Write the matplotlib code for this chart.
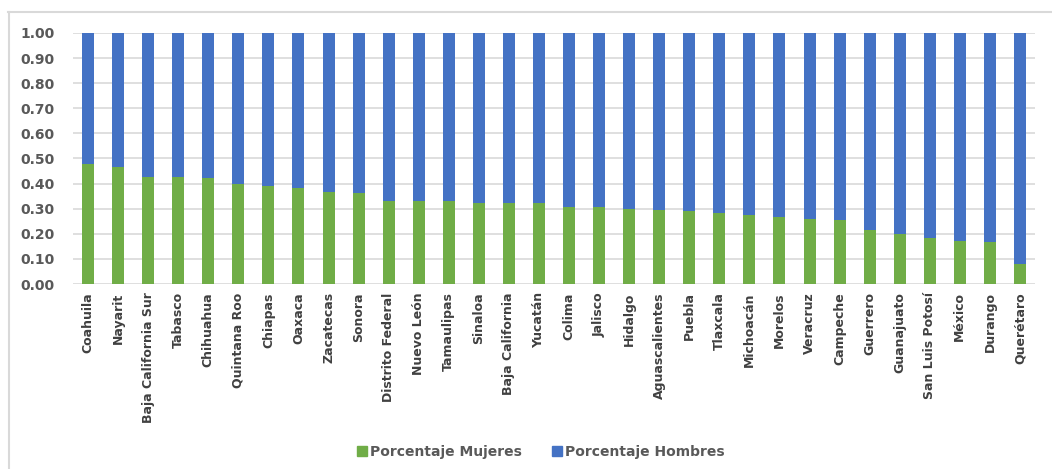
import matplotlib
matplotlib.use("Agg")
import matplotlib.pyplot as plt
import numpy as np
from matplotlib.lines import Line2D

estados = [
    "Coahuila", "Nayarit", "Baja California Sur", "Tabasco", "Chihuahua",
    "Quintana Roo", "Chiapas", "Oaxaca", "Zacatecas", "Sonora",
    "Distrito Federal", "Nuevo León", "Tamaulipas", "Sinaloa",
    "Baja California", "Yucatán", "Colima", "Jalisco", "Hidalgo",
    "Aguascalientes", "Puebla", "Tlaxcala", "Michoacán", "Morelos",
    "Veracruz", "Campeche", "Guerrero", "Guanajuato", "San Luis Potosí",
    "México", "Durango", "Querétaro"]

mujeres = [
    0.477, 0.468, 0.428, 0.428, 0.424, 0.399, 0.389, 0.381, 0.366, 0.362,
    0.330, 0.330, 0.330, 0.324, 0.321, 0.321, 0.305, 0.305, 0.297, 0.294,
    0.290, 0.281, 0.273, 0.265, 0.257, 0.255, 0.215, 0.198, 0.183, 0.172,
    0.166, 0.078]

hombres = [1 - m for m in mujeres]

verde = "#70AD47"
azul = "#4472C4"
gris_txt = "#595959"
gris_grid = "#D9D9D9"

fig = plt.figure(figsize=(10.52, 4.69), dpi=100)
ax = fig.add_axes([73 / 1052, 1 - 284 / 469, (1035 - 73) / 1052, (284 - 33) / 469])

x = np.arange(len(estados))
ax.bar(x, mujeres, width=0.4, color=verde, label="Porcentaje Mujeres", zorder=3)
ax.bar(x, hombres, width=0.4, bottom=mujeres, color=azul,
       label="Porcentaje Hombres", zorder=3)

ax.set_xlim(-0.5, len(estados) - 0.5)
ax.set_ylim(0, 1.0)
ax.set_yticks(np.arange(0, 1.01, 0.1))
ax.set_yticklabels(["{:.2f}".format(v) for v in np.arange(0, 1.01, 0.1)],
                   fontsize=10, fontweight="bold", color=gris_txt)
ax.set_xticks(x)
ax.set_xticklabels(estados, rotation=90, fontsize=9, fontweight="bold",
                   color="#404040")
ax.tick_params(axis="y", length=0, pad=13)
ax.tick_params(axis="x", length=0, pad=6)
ax.grid(axis="y", color=gris_grid, linewidth=1.2, zorder=0)
for s in ax.spines.values():
    s.set_visible(False)

# borde del área del gráfico
fig.add_artist(Line2D([8 / 1052, 1], [1 - 12 / 469, 1 - 12 / 469],
                      color=gris_grid, linewidth=1.5))
fig.add_artist(Line2D([9 / 1052, 9 / 1052], [0, 1 - 12 / 469],
                      color=gris_grid, linewidth=1.5))

handles = [
    Line2D([], [], marker="s", linestyle="", color=verde, markersize=7),
    Line2D([], [], marker="s", linestyle="", color=azul, markersize=7)]
fig.legend(handles, ["Porcentaje Mujeres", "Porcentaje Hombres"],
           loc="center", bbox_to_anchor=(540 / 1052, 1 - 452 / 469), ncol=2,
           frameon=False, handletextpad=0.1, columnspacing=2.0,
           handlelength=1.0,
           prop={"size": 10, "weight": "bold"}, labelcolor=gris_txt)

fig.savefig("out.png", dpi=100)
